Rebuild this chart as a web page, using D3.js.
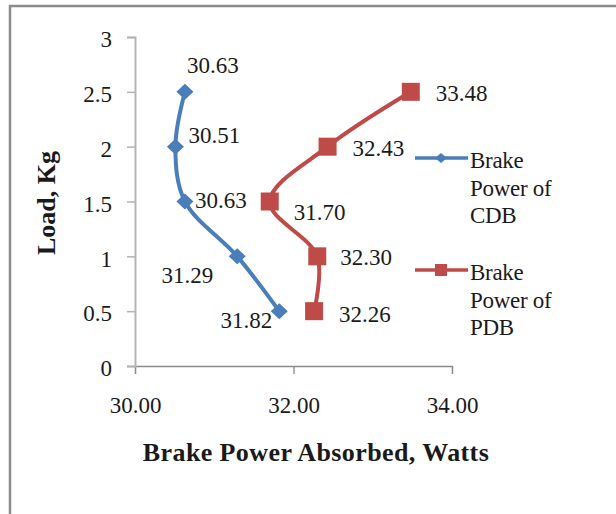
<!DOCTYPE html>
<html>
<head>
<meta charset="utf-8">
<script src="https://cdn.jsdelivr.net/npm/d3@7"></script>
<style>
  body { margin: 0; background: #fff; }
  text { font-family: "Liberation Serif", "Times New Roman", serif; fill: #1a1a1a; }
</style>
</head>
<body>
<div id="chart"></div>
<script>
// donnees
const seriesNames = ["Brake Power of CDB", "Brake Power of PDB"];
const cdbLoad = [2.5, 2, 1.5, 1, 0.5];
const cdbPower = [30.63, 30.51, 30.63, 31.29, 31.82];
const pdbLoad = [0.5, 1, 1.5, 2, 2.5];
const pdbPower = [32.26, 32.30, 31.70, 32.43, 33.48];
const xTicks = [30, 32, 34];
const yTicks = [0, 0.5, 1, 1.5, 2, 2.5, 3];
const xTitle = "Brake Power Absorbed, Watts";
const yTitle = "Load, Kg";

// placement des etiquettes (relatif au point)
const cdbLabelPos = [
  {dx: 2, dy: -19, anchor: "start"},
  {dx: 13, dy: -4, anchor: "start"},
  {dx: 10, dy: 6, anchor: "start"},
  {dx: -24, dy: 27, anchor: "end"},
  {dx: -7, dy: 17, anchor: "end"}
];
const pdbLabelPos = [
  {dx: 25, dy: 11, anchor: "start"},
  {dx: 23, dy: 9, anchor: "start"},
  {dx: 24, dy: 18, anchor: "start"},
  {dx: 25, dy: 9, anchor: "start"},
  {dx: 25, dy: 9, anchor: "start"}
];

const width = 616, height = 514;
const BLUE = "#4a7ebb", RED = "#be4b48";

const svg = d3.select("#chart").append("svg")
    .attr("width", width)
    .attr("height", height)
    .attr("font-family", "'Liberation Serif', 'Times New Roman', serif");

svg.append("rect").attr("width", width).attr("height", height).attr("fill", "#fff");

// cadre
svg.append("path")
    .attr("d", "M10,514V6H616")
    .attr("fill", "none")
    .attr("stroke", "#8c8c8c")
    .attr("stroke-width", 2.5);

const x = d3.scaleLinear().domain([30, 34]).range([135, 452]);
const y = d3.scaleLinear().domain([0, 3]).range([366, 37]);

// axe X
const gx = svg.append("g")
    .attr("transform", "translate(0," + y(0) + ")")
    .call(d3.axisBottom(x).tickValues(xTicks).tickFormat(d3.format(".2f"))
      .tickSize(8).tickPadding(23));
gx.attr("font-family", null);
gx.select(".domain").attr("stroke", "#8a8a8a").attr("stroke-width", 1.3);
gx.selectAll(".tick line").attr("stroke", "#8a8a8a").attr("stroke-width", 1.3);
gx.selectAll("text").attr("font-size", 23);

// axe Y
const gy = svg.append("g")
    .attr("transform", "translate(" + x(30) + ",0)")
    .call(d3.axisLeft(y).tickValues(yTicks).tickFormat(d3.format("")).tickSize(8).tickPadding(15));
gy.attr("font-family", null);
gy.select(".domain").attr("stroke", "#b4b4b4").attr("stroke-width", 2);
gy.selectAll(".tick line").attr("stroke", "#b4b4b4").attr("stroke-width", 1.5);
gy.selectAll("text").attr("font-size", 23).attr("dy", "0.42em");

// titres
svg.append("text")
    .attr("x", 316).attr("y", 461)
    .attr("text-anchor", "middle")
    .attr("font-weight", "bold")
    .attr("font-size", 26)
    .attr("letter-spacing", 0.4)
    .text(xTitle);

svg.append("text")
    .attr("transform", "translate(55,203) rotate(-90)")
    .attr("text-anchor", "middle")
    .attr("font-weight", "bold")
    .attr("font-size", 26)
    .text(yTitle);

const line = d3.line()
    .x(d => x(d[0]))
    .y(d => y(d[1]))
    .curve(d3.curveCatmullRom.alpha(0.5));

function diamond(w, h) {
  return "M0," + (-h) + "L" + w + ",0L0," + h + "L" + (-w) + ",0Z";
}

function drawSeries(power, load, color, marker, labelPos) {
  const pts = power.map((p, i) => [p, load[i]]);
  svg.append("path")
      .datum(pts)
      .attr("fill", "none")
      .attr("stroke", color)
      .attr("stroke-width", 4)
      .attr("d", line);

  const g = svg.append("g");
  if (marker === "diamond") {
    g.selectAll("path").data(pts).enter().append("path")
        .attr("d", diamond(8.5, 8))
        .attr("transform", d => "translate(" + x(d[0]) + "," + y(d[1]) + ")")
        .attr("fill", color);
  } else {
    g.selectAll("rect").data(pts).enter().append("rect")
        .attr("x", d => x(d[0]) - 9)
        .attr("y", d => y(d[1]) - 9)
        .attr("width", 18).attr("height", 18)
        .attr("fill", color);
  }

  svg.append("g").selectAll("text").data(pts).enter().append("text")
      .attr("x", (d, i) => x(d[0]) + labelPos[i].dx)
      .attr("y", (d, i) => y(d[1]) + labelPos[i].dy)
      .attr("text-anchor", (d, i) => labelPos[i].anchor)
      .attr("font-size", 23)
      .text(d => d[0].toFixed(2));
}

drawSeries(cdbPower, cdbLoad, BLUE, "diamond", cdbLabelPos);
drawSeries(pdbPower, pdbLoad, RED, "square", pdbLabelPos);

// legende
const legend = [
  {name: seriesNames[0], color: BLUE, marker: "diamond", y: 158},
  {name: seriesNames[1], color: RED, marker: "square", y: 270}
];
legend.forEach(l => {
  const g = svg.append("g");
  g.append("line")
      .attr("x1", 415).attr("x2", 468)
      .attr("y1", l.y).attr("y2", l.y)
      .attr("stroke", l.color).attr("stroke-width", 3.5);
  if (l.marker === "diamond") {
    g.append("path").attr("d", diamond(6, 5))
        .attr("transform", "translate(441," + l.y + ")")
        .attr("fill", l.color);
  } else {
    g.append("rect").attr("x", 435).attr("y", l.y - 6)
        .attr("width", 12).attr("height", 12).attr("fill", l.color);
  }
  const words = ["Brake", "Power of", l.name.split(" ").pop()];
  const t = g.append("text").attr("font-size", 23).attr("letter-spacing", -0.3);
  words.forEach((w, i) => {
    t.append("tspan").attr("x", 470).attr("y", l.y + 10 + i * 27.5).text(w);
  });
});
</script>
</body>
</html>
